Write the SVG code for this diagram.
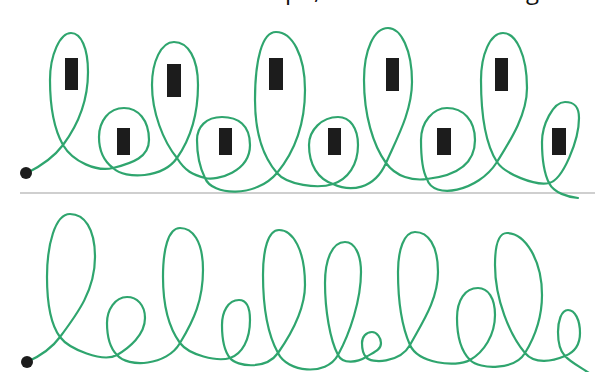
<svg xmlns="http://www.w3.org/2000/svg" width="595" height="372" viewBox="0 0 595 372">
  <style>
    .loop { fill: none; stroke: #2fa56e; stroke-width: 2.2; stroke-linecap: round; stroke-linejoin: round; }
    .block { fill: #1c1c1c; }
    .start { fill: #1c1c1c; }
    .rule { stroke: #cfcfcf; stroke-width: 2; }
    .cut { font-family: "Open Sans", "Liberation Sans", sans-serif; font-size: 24px; fill: #111; }
  </style>
  <rect width="595" height="372" fill="#ffffff"/>
  <g id="cut-text">
    <text class="cut" x="285" y="-1">p</text>
    <text class="cut" x="314" y="-1">,</text>
    <text class="cut" x="526" y="-1">g</text>
  </g>
  <line class="rule" x1="20" y1="193" x2="595" y2="193"/>
  <g id="connectors">
    <path id="path-top" class="loop" d="M27,173 C39,167 54,157 63,145
      C78,125 88,100 88,72 C88,48 81,33 71,33 C60,33 50,55 50,80 C50,105 54,129 63,145
      C73,162 97,172 113,168
      C133,163 149,157 149,140 C149,120 138,108 124,108 C109,108 99,121 99,137 C99,152 105,162 113,168
      C126,180 163,178 177,158
      C191,138 198,115 198,85 C198,58 188,42 174,42 C161,42 152,62 152,85 C152,112 163,141 177,158
      C185,171 193,175 205,178
      C217,181 250,172 250,145 C250,125 238,117 222,117 C206,117 197,127 197,140 C197,157 200,168 205,178
      C212,196 256,198 277,173
      C296,150 305,122 305,90 C305,55 292,32 276,32 C262,32 255,60 255,100 C255,135 264,158 277,173
      C287,185 318,189 333,184
      C348,179 358,165 358,145 C358,128 350,117 338,117 C322,117 309,130 309,145 C309,165 318,179 333,184
      C350,192 374,190 386,163
      C396,140 412,112 412,82 C412,50 401,28 388,28 C374,28 364,50 364,80 C364,115 373,145 386,163
      C396,177 413,181 427,179
      C445,177 475,170 475,140 C475,120 463,108 447,108 C433,108 421,122 421,140 C421,160 423,172 427,179
      C433,200 478,192 497,162
      C510,141 527,115 527,88 C527,55 516,33 503,33 C490,33 481,55 481,80 C481,115 486,145 497,162
      C505,174 535,186 549,183
      C563,180 579,140 579,118 C579,106 574,102 565,102 C553,102 542,125 542,142 C542,160 545,175 549,183
      C554,193 568,197 578,198"/>
    <path id="path-bottom" class="loop" d="M27,362 C38,357 52,348 60,337
      C78,313 95,290 95,257 C95,228 84,214 70,214 C55,214 47,245 47,277 C47,305 51,325 60,337
      C69,349 103,363 117,355
      C129,348 145,335 145,318 C145,305 137,297 127,297 C115,297 107,310 107,323 C107,338 111,349 117,355
      C128,368 167,366 180,343
      C194,320 203,300 203,270 C203,240 192,228 180,228 C168,228 163,250 163,277 C163,305 169,328 180,343
      C189,355 217,362 230,358
      C242,354 250,340 250,320 C250,307 246,300 239,300 C228,300 222,312 222,325 C222,340 225,352 230,358
      C237,367 266,370 278,353
      C292,333 305,310 305,285 C305,250 293,230 279,230 C268,230 263,250 263,275 C263,310 268,335 278,353
      C287,372 326,377 338,355
      C350,333 361,300 361,272 C361,255 355,242 345,242 C332,242 325,260 325,283 C325,310 330,340 338,355
      C343,365 358,362 366,357
      C374,352 381,350 381,343 C381,338 377,332 372,332 C366,332 362,337 362,343 C362,350 363,354 366,357
      C371,364 400,363 410,345
      C422,323 438,300 438,272 C438,245 428,232 415,232 C404,232 398,250 398,272 C398,300 402,327 410,345
      C418,363 455,368 470,360
      C484,352 495,335 495,315 C495,298 488,288 478,288 C465,288 457,300 457,318 C457,338 462,352 470,360
      C480,370 515,370 525,353
      C533,340 542,320 542,295 C542,260 525,233 507,233 C497,233 495,250 495,265 C495,300 510,335 525,353
      C535,365 553,361 565,356
      C575,352 580,345 580,333 C580,320 575,310 568,310 C561,310 558,322 558,332 C558,345 561,352 565,356
      C570,362 582,368 592,375"/>
  </g>
  <g id="start-top"><circle class="start" cx="26" cy="173" r="6"/></g>
  <g id="start-bottom"><circle class="start" cx="27" cy="362" r="6"/></g>
  <g id="blocks-top">
    <rect id="block-1" class="block" x="65" y="58" width="13" height="32"/>
    <rect id="block-2" class="block" x="117" y="128" width="13" height="27"/>
    <rect id="block-3" class="block" x="167" y="64" width="14" height="33"/>
    <rect id="block-4" class="block" x="219" y="128" width="13" height="27"/>
    <rect id="block-5" class="block" x="269" y="58" width="14" height="32"/>
    <rect id="block-6" class="block" x="328" y="128" width="13" height="27"/>
    <rect id="block-7" class="block" x="386" y="58" width="13" height="33"/>
    <rect id="block-8" class="block" x="437" y="128" width="14" height="27"/>
    <rect id="block-9" class="block" x="495" y="58" width="13" height="33"/>
    <rect id="block-10" class="block" x="552" y="128" width="14" height="27"/>
  </g>
</svg>
